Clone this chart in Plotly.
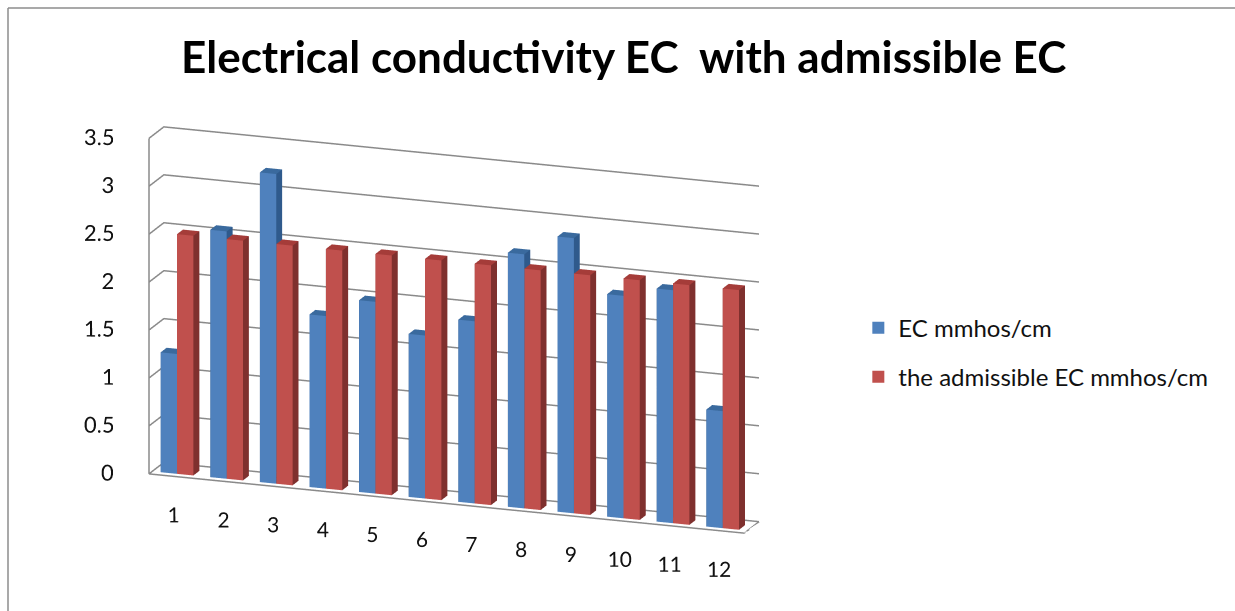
import plotly.graph_objects as go

categories = list(range(1, 13))
ec_values = [1.25, 2.58, 3.23, 1.8, 2.0, 1.7, 1.9, 2.65, 2.87, 2.32, 2.43, 1.22]
admissible_values = [2.5] * 12
series_names = ["EC mmhos/cm", "the admissible EC mmhos/cm"]
series_colors = ["#4F81BD", "#C0504D"]
z_ticks = [0, 0.5, 1, 1.5, 2, 2.5, 3, 3.5]
z_labels = ["0", "0.5", "1", "1.5", "2", "2.5", "3", "3.5"]
x_labels = [str(c) for c in categories]
x_frame = [0.5, 12.5]
y_frame = [0, 1]
z_frame = [0, 3.5]
frame_color = "#8a8a8a"


def boxes(values, x0, x1, front, side, top, name):
    xs, ys, zs, i, j, k, fc = [], [], [], [], [], [], []
    y0, y1 = 0.22, 0.62
    for c, v in zip(categories, values):
        b = len(xs)
        for yy in (y0, y1):
            for zz in (0, v):
                for xx in (c + x0, c + x1):
                    xs.append(xx); ys.append(yy); zs.append(zz)
        faces = [
            ((0, 1, 3), front), ((0, 3, 2), front),
            ((1, 5, 7), side), ((1, 7, 3), side),
            ((2, 3, 7), top), ((2, 7, 6), top),
            ((4, 5, 7), side), ((4, 7, 6), side),
            ((0, 4, 6), side), ((0, 6, 2), side),
        ]
        for (a, bb, cc), col in faces:
            i.append(b + a); j.append(b + bb); k.append(b + cc); fc.append(col)
    return go.Mesh3d(x=xs, y=ys, z=zs, i=i, j=j, k=k, facecolor=fc, flatshading=True,
                     lighting=dict(ambient=1, diffuse=0, specular=0, fresnel=0),
                     name=name, showlegend=False, hoverinfo="name")


fig = go.Figure()
fig.add_trace(boxes(ec_values, -0.33, 0.0, series_colors[0], "#2F5A8C", "#3A6A9E", series_names[0]))
fig.add_trace(boxes(admissible_values, 0.0, 0.33, series_colors[1], "#7F302E", "#A53C39", series_names[1]))

# wall grid and floor outline, following the axis frame
gx, gy, gz = [], [], []
for t in z_ticks:
    gx += [x_frame[0], x_frame[0], x_frame[1], None]
    gy += [y_frame[0], y_frame[1], y_frame[1], None]
    gz += [t, t, t, None]
gx += [x_frame[0], x_frame[0], None, x_frame[0], x_frame[1], x_frame[1]]
gy += [y_frame[0], y_frame[0], None, y_frame[0], y_frame[0], y_frame[1]]
gz += [z_frame[0], z_frame[1], None, z_frame[0], z_frame[0], z_frame[0]]
fig.add_trace(go.Scatter3d(x=gx, y=gy, z=gz, mode="lines", showlegend=False, hoverinfo="skip",
                           line=dict(color=frame_color, width=3)))

# tick labels as text anchored to the axes
fig.add_trace(go.Scatter3d(x=categories, y=[y_frame[0]] * len(categories), z=[-0.40] * len(categories),
                           mode="text", text=x_labels, textposition="middle center",
                           textfont=dict(size=21, family="Lato, sans-serif", color="#111111"),
                           showlegend=False, hoverinfo="skip"))
fig.add_trace(go.Scatter3d(x=[0.22] * len(z_ticks), y=[y_frame[0]] * len(z_ticks), z=z_ticks,
                           mode="text", text=z_labels, textposition="middle left",
                           textfont=dict(size=22, family="Lato, sans-serif", color="#111111"),
                           showlegend=False, hoverinfo="skip"))

for n, col in zip(series_names, series_colors):
    fig.add_trace(go.Scatter3d(x=[None], y=[None], z=[None], mode="markers", name=n, legendgroup=n,
                               marker=dict(symbol="square", size=14, color=col)))

axis_common = dict(showbackground=False, title=dict(text=""), showspikes=False, zeroline=False,
                   showgrid=False, showline=False, ticks="", showticklabels=False)
fig.update_layout(
    width=1235, height=611, margin=dict(l=0, r=0, t=0, b=0),
    paper_bgcolor="white", plot_bgcolor="white",
    font=dict(family="Lato, Open Sans, sans-serif", color="#111111", size=20),
    title=dict(text="<b>Electrical conductivity EC  with admissible EC</b>",
               x=0.505, xanchor="center", y=0.905, yanchor="middle",
               font=dict(size=44, color="black", family="Lato, sans-serif")),
    legend=dict(x=0.695, y=0.423, yanchor="middle", xanchor="left",
                font=dict(size=24, color="#111111"), itemsizing="constant", tracegroupgap=15),
    scene=dict(
        domain=dict(x=[0.0, 0.735], y=[0.0, 0.90]),
        aspectmode="manual", aspectratio=dict(x=2.5875, y=0.16, z=1.669),
        camera=dict(eye=dict(x=1.254, y=-3.09, z=1.087), center=dict(x=0.1437, y=0, z=0.1406),
                    up=dict(x=0, y=0, z=1), projection=dict(type="orthographic")),
        xaxis=dict(axis_common, range=[-1, 12.5]),
        yaxis=dict(axis_common, range=y_frame),
        zaxis=dict(axis_common, range=[-1, 3.6]),
    ),
    shapes=[
        dict(type="line", xref="paper", yref="paper", x0=8 / 1235, x1=8 / 1235, y0=0, y1=1 - 8 / 611,
             line=dict(color="#8c8c8c", width=1.5)),
        dict(type="line", xref="paper", yref="paper", x0=8 / 1235, x1=1, y0=1 - 8 / 611, y1=1 - 8 / 611,
             line=dict(color="#8c8c8c", width=1.5)),
    ],
)
fig.write_html("out.html", config=dict(displayModeBar=False), post_script="document.body.style.margin='0';")
